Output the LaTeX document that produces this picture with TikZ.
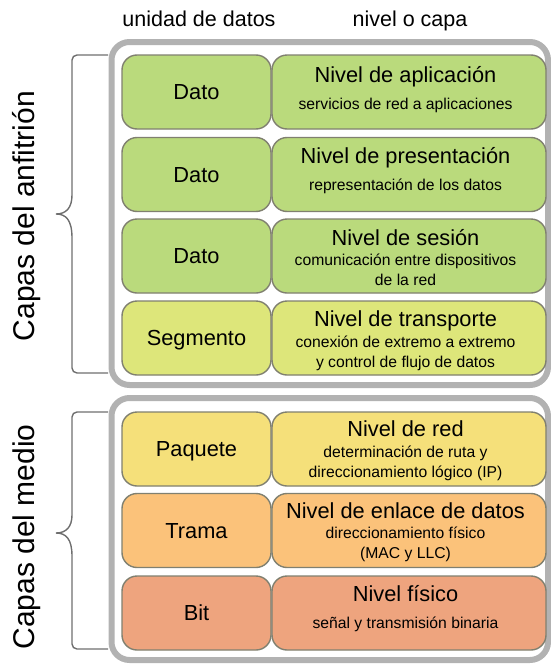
\documentclass[tikz,border=0pt]{standalone}
\usepackage{fontspec}
\setmainfont{Liberation Sans}
\definecolor{cgreen}{RGB}{186,218,124}
\definecolor{cyg}{RGB}{221,230,122}
\definecolor{cyel}{RGB}{245,224,122}
\definecolor{corange}{RGB}{251,194,122}
\definecolor{cred}{RGB}{238,164,126}
\definecolor{boxline}{RGB}{128,128,112}
\definecolor{framegray}{RGB}{178,178,178}
\definecolor{bracegray}{RGB}{110,110,110}
\begin{document}
\begin{tikzpicture}[x=1pt,y=-1pt,
  cell/.style={draw=boxline, line width=1.4pt, rounded corners=15pt, minimum height=74pt, inner sep=0pt},
  unitbox/.style={cell, minimum width=149pt},
  layerbox/.style={cell, minimum width=274pt},
  unittxt/.style={font=\fontsize{21.8}{24}\selectfont, text height=15.6pt, text depth=0pt, inner sep=0pt},
  titletxt/.style={font=\fontsize{21.8}{24}\selectfont, text height=15.6pt, text depth=0pt, inner sep=0pt, xshift=-3.5pt},
  subtxt/.style={font=\fontsize{15.7}{18}\selectfont, text height=11.2pt, text depth=0pt, inner sep=0pt, xshift=-3.5pt},
  headtxt/.style={font=\fontsize{21.5}{24}\selectfont, text height=15.4pt, text depth=0pt, inner sep=0pt},
  sidetxt/.style={font=\fontsize{30}{36}\selectfont, rotate=90, inner sep=0pt},
  frame/.style={draw=framegray, line width=6pt, rounded corners=18pt, fill=white},
  bracestyle/.style={draw=bracegray, line width=1.4pt}
]
\useasboundingbox (0,0) rectangle (550,664);

% headers
\node[headtxt] (h1) at (199,19) {unidad de datos};
\node[headtxt] (h2) at (410,19) {nivel o capa};

% frames
\draw[frame] (111.5,42) rectangle (548,385);
\draw[frame] (111.5,398) rectangle (548,660);

% braces
\draw[bracestyle] (108,55) [rounded corners=5pt] -- (72,55) -- (72,190) [sharp corners]
  .. controls (72,208) and (66,214) .. (56,214)
  .. controls (66,214) and (72,220) .. (72,238) [rounded corners=5pt] -- (72,373) -- (108,373);
\draw[bracestyle] (108,412) [rounded corners=5pt] -- (72,412) -- (72,510) [sharp corners]
  .. controls (72,527) and (66,533) .. (56,533)
  .. controls (66,533) and (72,539) .. (72,556) [rounded corners=5pt] -- (72,649) -- (108,649);

% side labels
\node[sidetxt] (s1) at (27,216) {Capas del anfitrión};
\node[sidetxt] (s2) at (27,537) {Capas del medio};

% row 1
\node[unitbox, fill=cgreen] (u1) at (196.5,92) {};
\node[layerbox, fill=cgreen] (l1) at (409,92) {};
\node[unittxt] (u1t) at (u1.center) {Dato};
\node[titletxt] (l1t) at ([yshift=17pt]l1.center) {Nivel de aplicación};
\node[subtxt] (l1s) at ([yshift=-12pt]l1.center) {servicios de red a aplicaciones};

% row 2
\node[unitbox, fill=cgreen] (u2) at (196.5,174.5) {};
\node[layerbox, fill=cgreen] (l2) at (409,174.5) {};
\node[unittxt] (u2t) at (u2.center) {Dato};
\node[titletxt] (l2t) at ([yshift=19pt]l2.center) {Nivel de presentación};
\node[subtxt] (l2s) at ([yshift=-10pt]l2.center) {representación de los datos};

% row 3
\node[unitbox, fill=cgreen] (u3) at (196.5,256) {};
\node[layerbox, fill=cgreen] (l3) at (409,256) {};
\node[unittxt] (u3t) at (u3.center) {Dato};
\node[titletxt] (l3t) at ([yshift=18pt]l3.center) {Nivel de sesión};
\node[subtxt] (l3s) at ([yshift=-4pt]l3.center) {comunicación entre dispositivos};
\node[subtxt] (l3s2) at ([yshift=-24pt]l3.center) {de la red};

% row 4
\node[unitbox, fill=cyg] (u4) at (196.5,338) {};
\node[layerbox, fill=cyg] (l4) at (409,338) {};
\node[unittxt] (u4t) at (u4.center) {Segmento};
\node[titletxt] (l4t) at ([yshift=19pt]l4.center) {Nivel de transporte};
\node[subtxt] (l4s) at ([yshift=-3.5pt]l4.center) {conexión de extremo a extremo};
\node[subtxt] (l4s2) at ([yshift=-23.5pt]l4.center) {y control de flujo de datos};

% row 5
\node[unitbox, fill=cyel] (u5) at (196.5,449) {};
\node[layerbox, fill=cyel] (l5) at (409,449) {};
\node[unittxt] (u5t) at (u5.center) {Paquete};
\node[titletxt] (l5t) at ([yshift=20pt]l5.center) {Nivel de red};
\node[subtxt] (l5s) at ([yshift=-3pt]l5.center) {determinación de ruta y};
\node[subtxt] (l5s2) at ([yshift=-23pt]l5.center) {direccionamiento lógico (IP)};

% row 6
\node[unitbox, fill=corange] (u6) at (196.5,530.5) {};
\node[layerbox, fill=corange] (l6) at (409,530.5) {};
\node[unittxt] (u6t) at (u6.center) {Trama};
\node[titletxt] (l6t) at ([yshift=19.5pt]l6.center) {Nivel de enlace de datos};
\node[subtxt] (l6s) at ([yshift=-2.5pt]l6.center) {direccionamiento físico};
\node[subtxt] (l6s2) at ([yshift=-22.5pt]l6.center) {(MAC y LLC)};

% row 7
\node[unitbox, fill=cred] (u7) at (196.5,613) {};
\node[layerbox, fill=cred] (l7) at (409,613) {};
\node[unittxt] (u7t) at (u7.center) {Bit};
\node[titletxt] (l7t) at ([yshift=19pt]l7.center) {Nivel físico};
\node[subtxt] (l7s) at ([yshift=-10pt]l7.center) {señal y transmisión binaria};
\end{tikzpicture}
\end{document}
